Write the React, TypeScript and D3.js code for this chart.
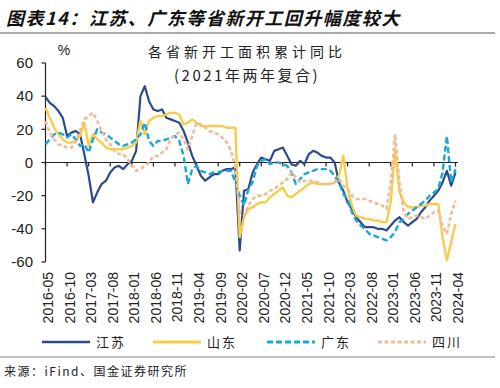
import * as d3 from 'd3';

// monthly points, 2016-05 .. 2024-04
const months = d3.timeMonth
  .range(new Date(2016, 4, 1), new Date(2024, 4, 1))
  .map(d3.timeFormat('%Y-%m'));

const xTickLabels = [
  '2016-05', '2016-10', '2017-03', '2017-08', '2018-01', '2018-06', '2018-11',
  '2019-04', '2019-09', '2020-02', '2020-07', '2020-12', '2021-05', '2021-10',
  '2022-03', '2022-08', '2023-01', '2023-06', '2023-11', '2024-04',
];

const yTicks = [60, 40, 20, 0, -20, -40, -60];

const jiangsu = [
  39.5, 36, 34, 31, 27, 16, 18, 19, 17, 5, -8, -24, -18, -13, -11, -6, -3, -2, -4, -1,
  1, 7, 40, 46, 37, 32, 31, 32, 27, 26, 25, 24, 19, 12, 4, -2, -8, -11, -9, -7,
  -7, -5, -4, -4, -3, -53, -17, -16, -6, -1, 3, 2, 1, 7, 8, 9, 4, -1, -2, 1,
  -1, 5, 7, 6, 4, 3, 3, 0, -12, -17, -24, -28, -33, -36, -39, -39, -39, -40, -40, -41,
  -38, -35, -33, -36, -38, -36, -34, -30, -27, -23, -20, -17, -12, -5, -14, -6,
];

const shandong = [
  33, 27, 21, 17, 14, 12, 12, 13, 16, 24, 10, 17, 14, 12, 9, 8, 8, 8, 8, 9,
  10, 12, 25, 17, 25, 27, 28, 28, 29, 30, 30, 29, 23, 24, 26, 24, 22, 22, 22, 22,
  22, 22, 21, 21, 21, -45, -33, -28, -27, -25, -24, -24, -21, -19, -17, -15, -20, -21, -19, -17,
  -15, -13, -12, -13, -13, -13, -13, -12, -8, 4, -16, -26, -32, -33, -34, -34, -35, -35, -36, -36,
  -24, 8, -18, -24, -27, -27, -27, -26, -26, -25, -25, -25, -45, -59, -48, -37,
];

const guangdong = [
  11, 14, 17, 18, 17, 15, 17, 14, 10, 11, 6, 14, 20, 18, 17, 15, 13, 11, 10, 11,
  12, 14, 17, 24, 13, 10, 13, 13, 14, 15, 16, 13, 4, -13, -4, -2, -5, -6, -7, -6,
  -6, -5, -5, -5, -12, -20, -26, -16, -12, -2, 1, 2, -1, 0, 0, -1, -2, -6, -13, -10,
  -7, -6, -5, -4, -4, -4, -5, -8, -12, -19, -22, -30, -35, -38, -40, -43, -44, -45, -46, -47,
  -45, -42, -36, -34, -31, -29, -27, -25, -23, -20, -18, -16, -6, 16, -12, -4,
];

const sichuan = [
  25, 18, 14, 11, 10, 9, 9, 13, 19, 26, 28, 30, 25, 19, 14, 11, 7, 5, 5, 2,
  -2, -5, -4, -2, 0, 4, 4, 6, 8, 14, 17, 18, 14, 8, 16, 24, 23, 21, 19, 18,
  17, 15, 12, 7, -3, -30, -32, -26, -22, -20, -20, -19, -17, -16, -14, -12, -10, -6, -9, -12,
  -11, -11, -11, -12, -13, -13, -13, -12, -10, -14, -16, -20, -22, -22, -22, -23, -24, -25, -26, -28,
  -12, 17, -12, -30, -34, -33, -32, -33, -34, -32, -30, -29, -38, -43, -31, -23,
];

const series = [
  { name: '江苏', values: jiangsu, color: '#2c4a8c', width: 2.2, dash: null },
  { name: '山东', values: shandong, color: '#f6cd4c', width: 2.4, dash: null },
  { name: '广东', values: guangdong, color: '#1ca6d8', width: 2.4, dash: '6 3' },
  { name: '四川', values: sichuan, color: '#f1bb97', width: 2.6, dash: '4 2.5' },
];

const W = 500;
const H = 388;
const CJK = '"Noto Sans CJK SC", sans-serif';
const NUM = '"Liberation Sans", Arial, sans-serif';

const App = () => {
  const x = d3.scaleLinear().domain([0, months.length - 1]).range([45.5, 455.5]);
  const y = d3.scaleLinear().domain([-60, 60]).range([262, 63]);

  const line = d3
    .line<number>()
    .x((_, i) => x(i))
    .y(d => y(d));

  const legendX = [42, 153, 267, 378];

  return (
    <svg
      width={W}
      height={H}
      style={{ position: 'absolute', left: 0, top: 0, background: '#fff' }}
    >
      {/* header */}
      <text
        x={6}
        y={25}
        fontFamily={CJK}
        fontSize={18}
        fontWeight="bold"
        fontStyle="italic"
        letterSpacing={1.5}
        fill="#111"
      >
        图表14：江苏、广东等省新开工回升幅度较大
      </text>
      <line x1={0} x2={495} y1={33} y2={33} stroke="#aaa" strokeWidth={2} />

      {/* chart title */}
      <text x={247} y={57} textAnchor="middle" fontFamily={CJK} fontSize={14} letterSpacing={4} fill="#222">
        各省新开工面积累计同比
      </text>
      <text x={247} y={81} textAnchor="middle" fontFamily={CJK} fontSize={15} letterSpacing={2.5} fill="#222">
        (2021年两年复合)
      </text>
      <text x={64} y={55} textAnchor="middle" fontFamily={NUM} fontSize={14} fill="#222">
        %
      </text>

      {/* y axis */}
      <line x1={x(0)} x2={x(0)} y1={y(60)} y2={y(-60)} stroke="#222" strokeWidth={1.2} />
      {yTicks.map(t => (
        <g key={`yt-${t}`}>
          <line x1={x(0) - 4} x2={x(0)} y1={y(t)} y2={y(t)} stroke="#222" strokeWidth={1.2} />
          <text
            x={33}
            y={y(t)}
            dy="0.35em"
            textAnchor="end"
            fontFamily={NUM}
            fontSize={15}
            fill="#222"
          >
            {t}
          </text>
        </g>
      ))}

      {/* x axis on zero */}
      <line x1={x(0)} x2={458} y1={y(0)} y2={y(0)} stroke="#222" strokeWidth={1.2} />
      {xTickLabels.map(lab => {
        const i = months.indexOf(lab);
        return (
          <g key={`xt-${lab}`}>
            <line x1={x(i)} x2={x(i)} y1={y(0)} y2={y(0) + 4} stroke="#222" strokeWidth={1.2} />
            <text
              transform={`translate(${x(i) + 7.5},272) rotate(-90)`}
              textAnchor="end"
              fontFamily={NUM}
              fontSize={14}
              fill="#222"
            >
              {lab}
            </text>
          </g>
        );
      })}

      {/* series */}
      {series.map(s => (
        <path
          key={s.name}
          d={line(s.values) ?? ''}
          fill="none"
          stroke={s.color}
          strokeWidth={s.width}
          strokeDasharray={s.dash ?? undefined}
          strokeLinejoin="round"
        />
      ))}

      {/* legend */}
      {series.map((s, k) => (
        <g key={`lg-${s.name}`}>
          <line
            x1={legendX[k]}
            x2={legendX[k] + 48}
            y1={342}
            y2={342}
            stroke={s.color}
            strokeWidth={s.width + 0.4}
            strokeDasharray={s.dash ?? undefined}
          />
          <text
            x={legendX[k] + 54}
            y={347}
            fontFamily={CJK}
            fontSize={13}
            letterSpacing={2}
            fill="#222"
          >
            {s.name}
          </text>
        </g>
      ))}
      <line x1={0} x2={495} y1={357} y2={357} stroke="#aaa" strokeWidth={1.5} />

      {/* source */}
      <text x={4} y={376} fontFamily={CJK} fontSize={12} letterSpacing={1.5} fill="#222">
        来源：iFind、国金证券研究所
      </text>
    </svg>
  );
};

export default App;
